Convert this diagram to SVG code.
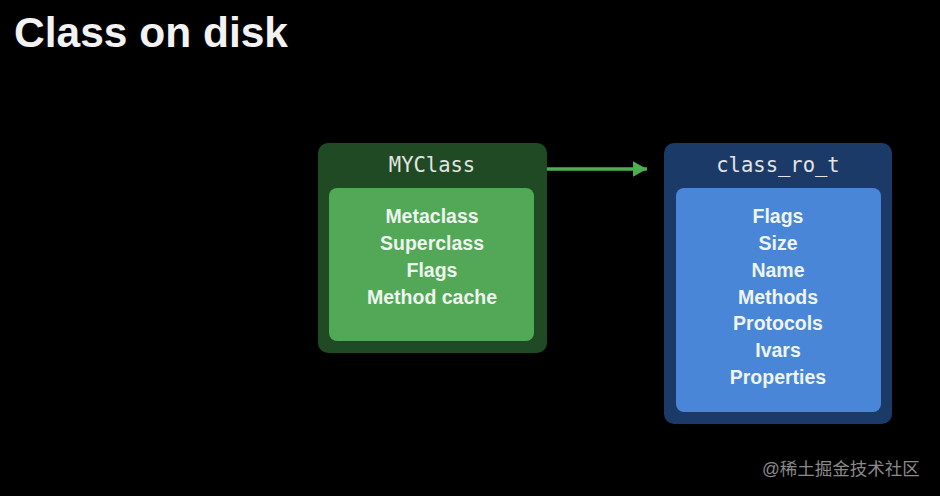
<svg xmlns="http://www.w3.org/2000/svg" width="940" height="496" viewBox="0 0 940 496">
  <style>
    .title { font-family: "Liberation Sans", Arial, sans-serif; font-weight: bold; font-size: 42.5px; fill: #f2f2f2; }
    .head { font-family: "DejaVu Sans Mono", "Liberation Mono", monospace; font-size: 20.5px; fill: #e4e4e4; text-anchor: middle; }
    .item { font-family: "Liberation Sans", Arial, sans-serif; font-weight: bold; font-size: 19.5px; fill: #eef5ee; text-anchor: middle; }
    .wm { font-family: "Liberation Sans", "Noto Sans CJK SC", sans-serif; font-size: 17.5px; fill: #8a8a8a; }
  </style>
  <defs>
    <marker id="arrow" markerWidth="4" markerHeight="4.4" refX="4" refY="2.2" orient="auto" markerUnits="strokeWidth">
      <path d="M0,0 L4,2.2 L0,4.4 z" fill="#4caf50"/>
    </marker>
  </defs>
  <rect x="0" y="0" width="940" height="496" fill="#000000"/>
  <text class="title" x="14" y="47">Class on disk</text>

  <g id="connectors">
    <line x1="547" y1="169" x2="647" y2="169" stroke="#4caf50" stroke-width="3.5" marker-end="url(#arrow)"/>
  </g>

  <g id="myclass">
    <rect x="318" y="143" width="229" height="210" rx="10" fill="#1f4a23"/>
    <text class="head" x="432" y="172">MYClass</text>
    <rect x="329" y="188" width="205" height="153" rx="8" fill="#52a857"/>
    <text class="item" x="432" y="223">Metaclass</text>
    <text class="item" x="432" y="250">Superclass</text>
    <text class="item" x="432" y="277">Flags</text>
    <text class="item" x="432" y="304">Method cache</text>
  </g>

  <g id="class_ro_t">
    <rect x="664" y="143" width="228" height="281" rx="10" fill="#1b3a68"/>
    <text class="head" x="778" y="172">class_ro_t</text>
    <rect x="676" y="188" width="205" height="224" rx="8" fill="#4a86d8"/>
    <text class="item" x="778" y="223">Flags</text>
    <text class="item" x="778" y="250">Size</text>
    <text class="item" x="778" y="277">Name</text>
    <text class="item" x="778" y="304">Methods</text>
    <text class="item" x="778" y="330">Protocols</text>
    <text class="item" x="778" y="357">Ivars</text>
    <text class="item" x="778" y="384">Properties</text>
  </g>

  <text class="wm" x="762" y="475">@稀土掘金技术社区</text>
</svg>
